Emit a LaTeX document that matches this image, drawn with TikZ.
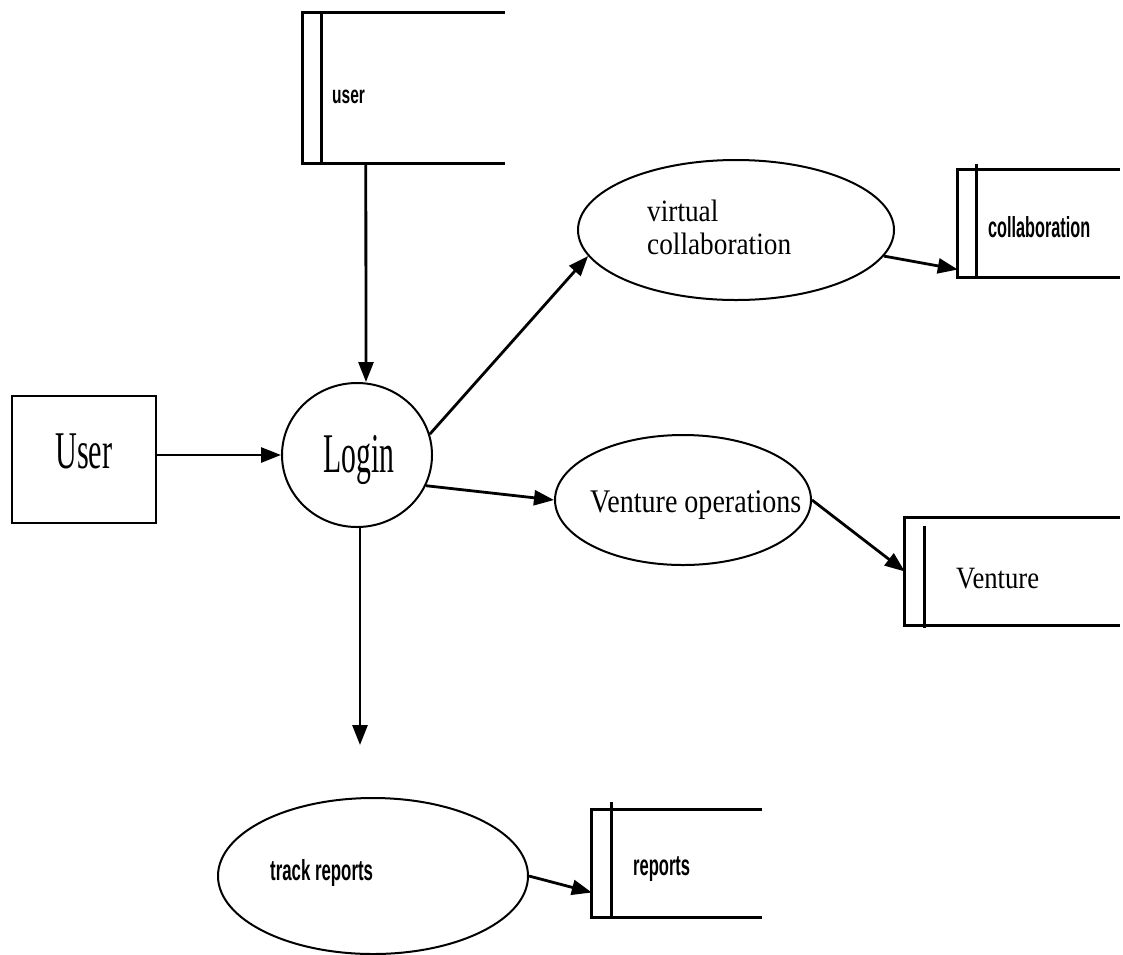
\documentclass[tikz,border=0pt]{standalone}
\usepackage{graphicx}
\usepackage{fontspec}
\setmainfont{Liberation Serif}
\newfontfamily\storefont{Liberation Sans}
\usetikzlibrary{arrows.meta,shapes.geometric}

% narrow text: font size, horizontal squeeze, text
\newcommand{\narrowtext}[3]{\fontsize{#1}{#1}\selectfont\scalebox{#2}[1]{#3}}
\newcommand{\narrowbold}[3]{\storefont\bfseries\fontsize{#1}{#1}\selectfont\scalebox{#2}[1]{#3}}

\begin{document}
\begin{tikzpicture}[x=1pt,y=-1pt,
  flow/.style={line width=2.8pt,-{Triangle[length=20pt,width=15pt]}},
  procshape/.style={draw,ellipse,line width=2pt,inner sep=0pt},
  entity/.style={draw,rectangle,line width=2.5pt,inner sep=0pt},
  storearea/.style={rectangle,inner sep=0pt,draw=none},
  storeline/.style={line width=2.8pt},
  label/.style={anchor=base west,inner sep=0pt}
]
\useasboundingbox (0,0) rectangle (1123,954);

% external entity and processes
\node[entity,minimum width=144pt,minimum height=127pt] (user) at (84,459.5) {};
\node[procshape,minimum width=150pt,minimum height=144pt] (login) at (357,455) {};
\node[procshape,minimum width=316pt,minimum height=140pt] (vc) at (736,230) {};
\node[procshape,minimum width=256pt,minimum height=130pt] (vo) at (683,500) {};
\node[procshape,minimum width=310pt,minimum height=156pt] (tr) at (373,876) {};

% data stores (open on the right)
\node[storearea,minimum width=202pt,minimum height=150pt] (ustore) at (404,88) {};
\node[storearea,minimum width=162pt,minimum height=107pt] (cstore) at (1039,223.5) {};
\node[storearea,minimum width=215pt,minimum height=107pt] (vstore) at (1012.5,571.5) {};
\node[storearea,minimum width=170pt,minimum height=107pt] (rstore) at (677,863.5) {};

\draw[storeline] (ustore.north east) -- (ustore.north west) -- (ustore.south west) -- (ustore.south east);
\draw[storeline] ([xshift=19pt]ustore.north west) -- ([xshift=19pt]ustore.south west);
\draw[storeline] (cstore.north east) -- (cstore.north west) -- (cstore.south west) -- (cstore.south east);
\draw[storeline] ([xshift=19pt,yshift=6pt]cstore.north west) -- ([xshift=19pt]cstore.south west);
\draw[storeline] (vstore.north east) -- (vstore.north west) -- (vstore.south west) -- (vstore.south east);
\draw[storeline] ([xshift=20pt,yshift=-8pt]vstore.north west) -- ([xshift=20pt,yshift=-3pt]vstore.south west);
\draw[storeline] (rstore.north east) -- (rstore.north west) -- (rstore.south west) -- (rstore.south east);
\draw[storeline] ([xshift=20pt,yshift=8pt]rstore.north west) -- ([xshift=20pt]rstore.south west);

% texts
\node[label] (usertext) at (55,468) {\narrowtext{53}{0.57}{User}};
\node[label] (logintext) at (323,472) {\narrowtext{56}{0.53}{Login}};
\node[label] (vctext1) at (647,221) {\narrowtext{31}{0.88}{virtual}};
\node[label] (vctext2) at (647,254) {\narrowtext{31}{0.88}{collaboration}};
\node[label] (votext) at (590,512) {\narrowtext{33}{0.85}{Venture operations}};
\node[label] (ventext) at (956,588) {\narrowtext{31}{0.86}{Venture}};
\node[label] (ustext) at (332,103) {\narrowbold{25}{0.62}{user}};
\node[label] (cstext) at (988,237) {\narrowbold{29}{0.56}{collaboration}};
\node[label] (rstext) at (633,875) {\narrowbold{29}{0.57}{reports}};
\node[label] (trtext) at (270,880) {\narrowbold{29}{0.58}{track reports}};

% data flows
\coordinate (trackin) at (360,745);
\draw[flow] ([xshift=63pt]ustore.south west) -- ([xshift=9pt]login.north);
\draw[flow] (user.east |- login.west) -- (login.west);
\draw[flow] (login.16) -- (vc.190);
\draw[flow] (login.-24) -- (vo.west);
\draw[flow] (vo.east) -- (vstore.west);
\draw[flow] ([xshift=3pt]login.south) -- (trackin);
\draw[flow] (tr.east) -- ([yshift=-29pt]rstore.west);
\draw[flow] (vc.-10) -- ([yshift=-46pt]cstore.west);
\end{tikzpicture}
\end{document}
